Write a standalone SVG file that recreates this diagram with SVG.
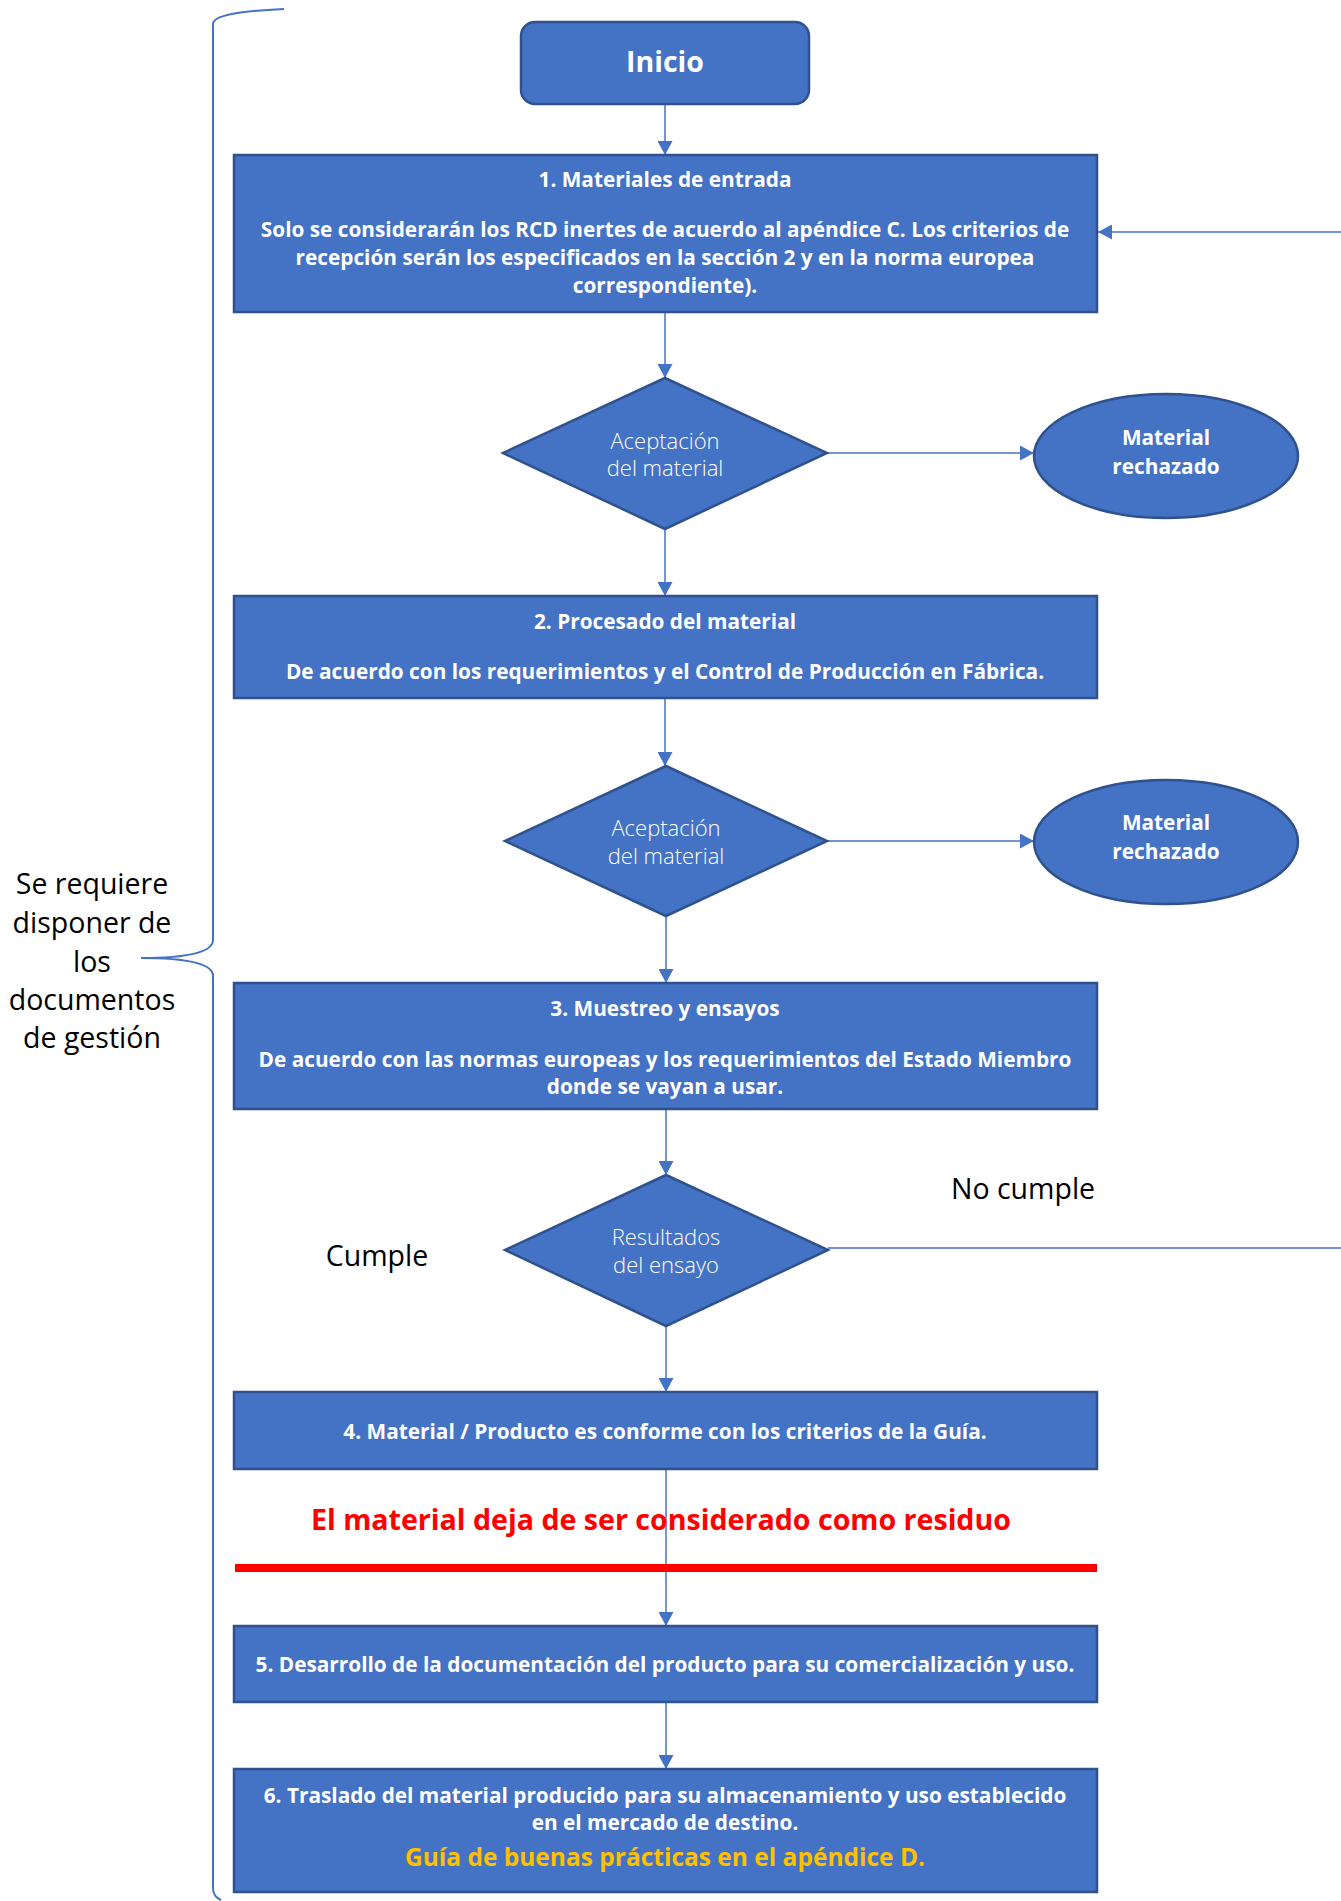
<svg xmlns="http://www.w3.org/2000/svg" width="1341" height="1901" viewBox="0 0 1341 1901">
<style>
.box{fill:#4472C4;stroke:#2F528F;stroke-width:2.5}
.bt{font-family:"Open Sans","Liberation Sans",sans-serif;font-weight:bold;font-size:20.8px;fill:#fff;text-anchor:middle}
.dt{font-family:"Open Sans","Liberation Sans",sans-serif;font-weight:300;font-size:22px;fill:#fff;text-anchor:middle}
.side{font-family:"Open Sans","Liberation Sans",sans-serif;font-weight:normal;font-size:28.5px;fill:#000;text-anchor:middle}
.con{stroke:#4472C4;stroke-width:1.5;fill:none}
</style>
<defs>
<marker id="ah" markerUnits="userSpaceOnUse" markerWidth="15" markerHeight="15" refX="14" refY="7.5" orient="auto">
<path d="M0,0 L14,7.5 L0,15 z" fill="#4472C4"/>
</marker>
</defs>

<g id="brace">
<path d="M284,9 C240,11 213,15 213,24 L213,940 C213,952 190,958 141,958 C190,958 213,964 213,976 L213,1888 C213,1895 216,1898 221,1900" fill="none" stroke="#4472C4" stroke-width="2"/>
</g>
<g id="side-label">
<text class="side" x="92" y="894">Se requiere</text>
<text class="side" x="92" y="933">disponer de</text>
<text class="side" x="92" y="972">los</text>
<text class="side" x="92" y="1010">documentos</text>
<text class="side" x="92" y="1048">de gestión</text>
</g>

<g id="connectors">
<line class="con" x1="665" y1="104" x2="665" y2="155" marker-end="url(#ah)"/>
<line class="con" x1="1341" y1="232" x2="1098" y2="232" marker-end="url(#ah)"/>
<line class="con" x1="665" y1="312" x2="665" y2="378" marker-end="url(#ah)"/>
<line class="con" x1="827" y1="453" x2="1034" y2="453" marker-end="url(#ah)"/>
<line class="con" x1="665" y1="529" x2="665" y2="596" marker-end="url(#ah)"/>
<line class="con" x1="665" y1="698" x2="665" y2="766" marker-end="url(#ah)"/>
<line class="con" x1="827" y1="841" x2="1034" y2="841" marker-end="url(#ah)"/>
<line class="con" x1="666" y1="916" x2="666" y2="983" marker-end="url(#ah)"/>
<line class="con" x1="666" y1="1109" x2="666" y2="1175" marker-end="url(#ah)"/>
<line class="con" x1="828" y1="1248" x2="1341" y2="1248"/>
<line class="con" x1="666" y1="1326" x2="666" y2="1392" marker-end="url(#ah)"/>
<line class="con" x1="666" y1="1469" x2="666" y2="1626" marker-end="url(#ah)"/>
<line class="con" x1="666" y1="1702" x2="666" y2="1769" marker-end="url(#ah)"/>
</g>

<g id="inicio">
<rect class="box" x="521" y="22" width="288" height="82" rx="14"/>
<text class="bt" x="665" y="72" style="font-size:28.5px">Inicio</text>
</g>

<g id="step1">
<rect class="box" x="234" y="155" width="863" height="157"/>
<text class="bt" x="665" y="187">1. Materiales de entrada</text>
<text class="bt" x="665" y="237">Solo se considerarán los RCD inertes de acuerdo al apéndice C. Los criterios de</text>
<text class="bt" x="665" y="265">recepción serán los especificados en la sección 2 y en la norma europea</text>
<text class="bt" x="665" y="293">correspondiente).</text>
</g>

<g id="decision1">
<polygon class="box" points="665,378 827,453 665,529 503,453"/>
<text class="dt" x="665" y="449">Aceptación</text>
<text class="dt" x="665" y="476">del material</text>
</g>

<g id="rejected1">
<ellipse class="box" cx="1166" cy="456" rx="132" ry="62"/>
<text class="bt" x="1166" y="445">Material</text>
<text class="bt" x="1166" y="474">rechazado</text>
</g>

<g id="step2">
<rect class="box" x="234" y="596" width="863" height="102"/>
<text class="bt" x="665" y="629">2. Procesado del material</text>
<text class="bt" x="665" y="679">De acuerdo con los requerimientos y el Control de Producción en Fábrica.</text>
</g>

<g id="decision2">
<polygon class="box" points="666,766 827,841 666,916 505,841"/>
<text class="dt" x="666" y="836">Aceptación</text>
<text class="dt" x="666" y="864">del material</text>
</g>

<g id="rejected2">
<ellipse class="box" cx="1166" cy="842" rx="132" ry="62"/>
<text class="bt" x="1166" y="830">Material</text>
<text class="bt" x="1166" y="859">rechazado</text>
</g>

<g id="step3">
<rect class="box" x="234" y="983" width="863" height="126"/>
<text class="bt" x="665" y="1016">3. Muestreo y ensayos</text>
<text class="bt" x="665" y="1067">De acuerdo con las normas europeas y los requerimientos del Estado Miembro</text>
<text class="bt" x="665" y="1094">donde se vayan a usar.</text>
</g>

<g id="decision3">
<polygon class="box" points="666,1175 828,1250 666,1326 505,1250"/>
<text class="dt" x="666" y="1245">Resultados</text>
<text class="dt" x="666" y="1273">del ensayo</text>
</g>

<g id="labels">
<text class="side" x="1023" y="1199">No cumple</text>
<text class="side" x="377" y="1266">Cumple</text>
</g>

<g id="step4">
<rect class="box" x="234" y="1392" width="863" height="77"/>
<text class="bt" x="665" y="1439">4. Material / Producto es conforme con los criterios de la Guía.</text>
</g>

<g id="waste-boundary">
<text x="661" y="1530" style="font-family:'Open Sans','Liberation Sans',sans-serif;font-weight:bold;font-size:28.6px;fill:#FF0000;text-anchor:middle">El material deja de ser considerado como residuo</text>
<rect x="235" y="1564" width="862" height="8" fill="#FF0000"/>
</g>

<g id="step5">
<rect class="box" x="234" y="1626" width="863" height="76"/>
<text class="bt" x="665" y="1672">5. Desarrollo de la documentación del producto para su comercialización y uso.</text>
</g>

<g id="step6">
<rect class="box" x="234" y="1769" width="863" height="123"/>
<text class="bt" x="665" y="1803">6. Traslado del material producido para su almacenamiento y uso establecido</text>
<text class="bt" x="665" y="1830">en el mercado de destino.</text>
<text class="bt" x="665" y="1866" style="font-size:24.5px;fill:#FFC000">Guía de buenas prácticas en el apéndice D.</text>
</g>
</svg>
